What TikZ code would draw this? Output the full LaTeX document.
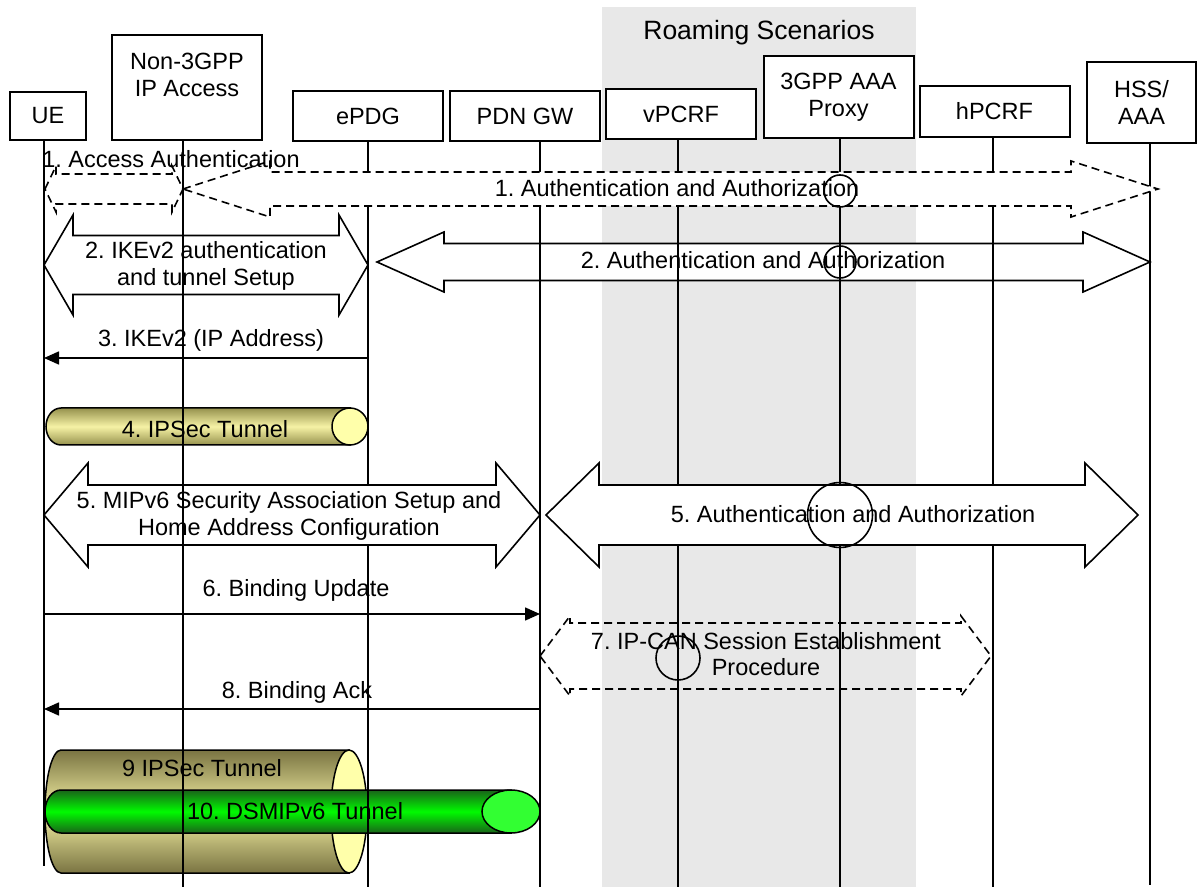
\documentclass[tikz,border=0pt]{standalone}
\usepackage{fontspec}
\setmainfont{Liberation Sans}
\usetikzlibrary{arrows.meta,calc,positioning,shapes.geometric}

\definecolor{roamgray}{RGB}{232,232,232}
\definecolor{olivedark}{RGB}{150,146,78}
\definecolor{olivedeep}{RGB}{122,116,66}
\definecolor{olivelight}{RGB}{246,242,165}
\definecolor{capyellow}{RGB}{255,255,170}
\definecolor{greendark}{RGB}{25,100,25}
\definecolor{greenmid}{RGB}{0,250,0}
\definecolor{capgreen}{RGB}{50,255,50}

% double block arrow between two lifelines: [style]{from}{to}{y}{shaft}{head}{head length}
\newcommand{\dblarrow}[7][]{%
  \draw[blk,#1] let \p1=(#2), \p2=(#3) in
    (\x1,-#4pt) -- (\x1+#7pt,-#4pt+#6pt) -- (\x1+#7pt,-#4pt+#5pt)
    -- (\x2-#7pt,-#4pt+#5pt) -- (\x2-#7pt,-#4pt+#6pt) -- (\x2,-#4pt)
    -- (\x2-#7pt,-#4pt-#6pt) -- (\x2-#7pt,-#4pt-#5pt)
    -- (\x1+#7pt,-#4pt-#5pt) -- (\x1+#7pt,-#4pt-#6pt) -- cycle;}

% lying cylinder: {left}{right}{y}{half height}{left rx}{cap rx}{edge}{middle}{cap}
\newcommand{\tunnel}[9]{%
  \shadedraw[top color=#7,bottom color=#7,middle color=#8,line width=1.5pt]
    (#2-#6,#3-#4) -- (#1+#5,#3-#4)
    arc[start angle=90,end angle=270,x radius=#5pt,y radius=#4pt]
    -- (#2-#6,#3+#4) -- cycle;
  \filldraw[fill=#9,line width=1.5pt] (#2-#6,#3) ellipse[x radius=#6pt,y radius=#4pt];}

\begin{document}
\frenchspacing
\begin{tikzpicture}[x=1pt,y=-1pt,
    font=\fontsize{23.5}{26.5}\selectfont,
    >={Triangle[length=15pt,width=13pt]},
    actor/.style={draw,fill=white,line width=2pt,minimum width=150pt,
      minimum height=50pt,inner sep=2pt,align=center},
    life/.style={line width=1.6pt},
    msg/.style={line width=1.6pt,->},
    blk/.style={draw,line width=1.6pt,fill=white},
    dblk/.style={dash pattern=on 8pt off 5pt},
    hop/.style={draw,circle,line width=1.6pt,inner sep=0pt},
    lbl/.style={align=center,inner sep=0pt}]

  \useasboundingbox (0,0) rectangle (1197,890);
  \fill[roamgray] (602,7) rectangle (916,887);
  \node[lbl] (roam) at (759,33) {\fontsize{26.5}{30}\selectfont Roaming Scenarios};

  % actors
  \node[actor,minimum width=76pt,minimum height=48pt] (ue) at (48,116) {UE};
  \node[actor,minimum height=105pt] (acc) at (187,87.5) {};
  \node[lbl] (acc-txt) at (187,75) {Non-3GPP\\IP Access};
  \node[actor] (epdg) at (368,116) {ePDG};
  \node[actor] (pgw) at (525,116) {PDN GW};
  \node[actor] (vpcrf) at (681,114) {vPCRF};
  \node[actor,minimum height=82pt] (aaa) at (838.5,97) {3GPP AAA\\Proxy};
  \node[actor,minimum height=51pt] (hpcrf) at (994.5,111.5) {hPCRF};
  \node[actor,minimum width=109pt,minimum height=81pt] (hss) at (1141.5,102.5) {HSS/\\AAA};

  \coordinate (ueL) at (44,866);
  \coordinate (accL) at (183,887);
  \coordinate (epdgL) at (368,887);
  \coordinate (pgwL) at (540,887);
  \coordinate (vpcrfL) at (678,887);
  \coordinate (aaaL) at (840,887);
  \coordinate (hpcrfL) at (993,887);
  \coordinate (hssL) at (1150,885);

  \dblarrow{[xshift=9pt]epdgL}{hssL}{262}{18.5}{30}{67}

  % lifelines
  \foreach \b/\l in {ue/ueL,acc/accL,epdg/epdgL,pgw/pgwL,vpcrf/vpcrfL,aaa/aaaL,hpcrf/hpcrfL,hss/hssL}
    \draw[life] (\b.south -| \l) -- (\l);

  \dblarrow[dblk]{[xshift=1pt]ueL}{accL}{189}{15}{23}{11}
  \dblarrow[dblk]{accL}{[xshift=8pt]hssL}{189}{17}{28}{87}
  \dblarrow{ueL}{epdgL}{265}{29.5}{50}{29}
  \dblarrow{ueL}{pgwL}{515}{30}{52}{44}
  \dblarrow{[xshift=6pt]pgwL}{[xshift=-12pt]hssL}{515}{30}{52}{53}
  \dblarrow[dblk,fill=none]{pgwL}{[xshift=-2pt]hpcrfL}{656}{33}{40}{30}

  \node[hop,minimum size=32pt] (hop1) at (aaaL |- 0,191) {};
  \node[hop,minimum size=32pt] (hop2) at (aaaL |- 0,262) {};
  \node[hop,minimum size=65pt] (hop5) at (aaaL |- 0,515) {};
  \node[hop,minimum size=44pt] (hop7) at (vpcrfL |- 0,658) {};

  % messages
  \draw[msg] (epdgL |- 0,358) -- (ueL |- 0,358);
  \draw[msg] (ueL |- 0,614) -- (pgwL |- 0,614);
  \draw[msg] (pgwL |- 0,709) -- (ueL |- 0,709);

  % tunnels
  \tunnel{46}{368}{426.5}{18.5}{15}{18}{olivedark}{olivelight}{capyellow}
  \tunnel{45}{367}{811.5}{61.5}{16}{18}{olivedeep}{olivelight}{capyellow}
  \tunnel{45}{540}{811.5}{21.5}{16}{29}{greendark}{greenmid}{capgreen}

  \draw[life] (acc.south -| accL) -- (accL);
  \draw[life] (epdgL |- 0,700) -- (epdgL);

  % labels
  \node[lbl] (t1a) at (171,159) {1. Access Authentication};
  \node[lbl] (t1b) at (677,188) {1. Authentication and Authorization};
  \node[lbl] (t2a) at (206,266) {2. IKEv2 authentication\\and tunnel Setup};
  \node[lbl] (t2b) at (763,260) {2. Authentication and Authorization};
  \node[lbl] (t3) at (211,340) {3. IKEv2 (IP Address)};
  \node[lbl] (t4) at (205,429) {4. IPSec Tunnel};
  \node[lbl] (t5a) at (289,516) {5. MIPv6 Security Association Setup and\\Home Address Configuration};
  \node[lbl] (t5b) at (853,514) {5. Authentication and Authorization};
  \node[lbl] (t6) at (296,590) {6. Binding Update};
  \node[lbl] (t7) at (766,654) {7. IP-CAN Session Establishment\\Procedure};
  \node[lbl] (t8) at (297,692) {8. Binding Ack};
  \node[lbl] (t9) at (202,768) {9 IPSec Tunnel};
  \node[lbl] (t10) at (295,811) {10. DSMIPv6 Tunnel};
\end{tikzpicture}
\end{document}
